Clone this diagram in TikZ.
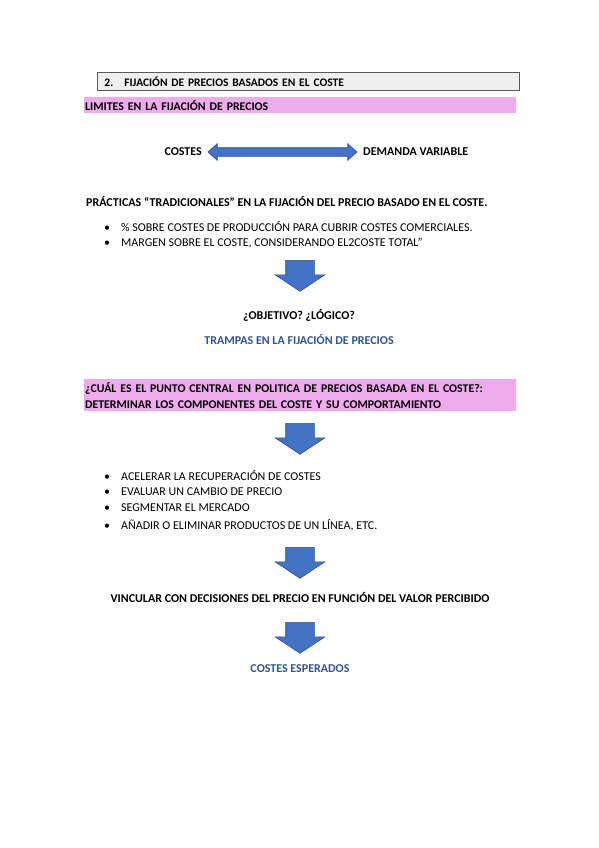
\documentclass[tikz,border=0pt]{standalone}
\usepackage{fontspec}
\setmainfont{Carlito}
\usetikzlibrary{shapes.arrows}
\definecolor{fl_blue}{RGB}{68,114,196}
\definecolor{fl_edge}{RGB}{47,82,143}
\definecolor{pink_band}{RGB}{239,172,236}
\definecolor{grey_box}{RGB}{239,239,239}
\definecolor{blue_text}{RGB}{47,84,150}
\tikzstyle{title}=[draw=black!65,fill=grey_box,line width=0.9pt,anchor=north west,
  minimum height=18pt,text width=408pt,inner xsep=7pt,inner ysep=0pt,align=left,
  font=\bfseries\fontsize{11.5}{13}\selectfont]
\tikzstyle{band}=[fill=pink_band,anchor=north west,text width=430pt,inner xsep=1pt,
  inner ysep=0pt,align=left,font=\bfseries\fontsize{11.8}{16}\selectfont]
\tikzstyle{txt}=[inner sep=0pt,font=\bfseries\fontsize{12}{14}\selectfont]
\tikzstyle{item}=[anchor=west,inner sep=0pt,font=\fontsize{12}{14}\selectfont]
\tikzstyle{down}=[single arrow,rotate=-90,anchor=tail,fill=fl_blue,draw=fl_edge,
  line width=0.6pt,inner xsep=0pt,inner ysep=14pt,minimum height=31pt,
  single arrow head extend=10.5pt,single arrow tip angle=113]
\tikzstyle{both}=[double arrow,fill=fl_blue,draw=fl_edge,line width=0.6pt,inner xsep=0pt,
  inner ysep=4pt,minimum height=149pt,double arrow head extend=4pt,double arrow tip angle=84]

\begin{document}
\begin{tikzpicture}[x=1pt,y=-1pt]
    \useasboundingbox (0,0) rectangle (599,848);
    \node [style=title] (head) at (97,72) {2.\hspace{11pt}FIJACIÓN DE PRECIOS BASADOS EN EL COSTE};
    \node [style=band,minimum height=16pt] (limits) at (84,97) {LIMITES EN LA FIJACIÓN DE PRECIOS};
    \node [style=txt,anchor=east] (costs) at (202,152) {COSTES};
    \node [style=txt,anchor=west] (demand) at (363,152) {DEMANDA VARIABLE};
    \path (costs.east) -- (demand.west) node [midway,style=both] (link) {};
    \node [style=txt,anchor=west] (practice) at (86,202) {PRÁCTICAS “TRADICIONALES” EN LA FIJACIÓN DEL PRECIO BASADO EN EL COSTE.};
    \node [style=item] (b1) at (104,227) {\textbullet\hspace{11pt}\% SOBRE COSTES DE PRODUCCIÓN PARA CUBRIR COSTES COMERCIALES.};
    \node [style=item] (b2) at (104,243) {\textbullet\hspace{11pt}MARGEN SOBRE EL COSTE, CONSIDERANDO EL2COSTE TOTAL”};
    \node [style=down] (arrow1) at (300,260) {};
    \node [style=txt] (question) at (299,315) {¿OBJETIVO? ¿LÓGICO?};
    \node [style=txt,text=blue_text] (traps) at (299,339) {TRAMPAS EN LA FIJACIÓN DE PRECIOS};
    \node [style=band,minimum height=32pt] (central) at (84,379) {¿CUÁL ES EL PUNTO CENTRAL EN POLITICA DE PRECIOS BASADA EN EL COSTE?:\\DETERMINAR LOS COMPONENTES DEL COSTE Y SU COMPORTAMIENTO};
    \node [style=down] (arrow2) at (300,423) {};
    \node [style=item] (c1) at (104,476) {\textbullet\hspace{11pt}ACELERAR LA RECUPERACIÓN DE COSTES};
    \node [style=item] (c2) at (104,492) {\textbullet\hspace{11pt}EVALUAR UN CAMBIO DE PRECIO};
    \node [style=item] (c3) at (104,508) {\textbullet\hspace{11pt}SEGMENTAR EL MERCADO};
    \node [style=item] (c4) at (104,525) {\textbullet\hspace{11pt}AÑADIR O ELIMINAR PRODUCTOS DE UN LÍNEA, ETC.};
    \node [style=down] (arrow3) at (300,547) {};
    \node [style=txt] (link_value) at (300,597) {VINCULAR CON DECISIONES DEL PRECIO EN FUNCIÓN DEL VALOR PERCIBIDO};
    \node [style=down] (arrow4) at (300,622) {};
    \node [style=txt,text=blue_text] (expected) at (300,669) {COSTES ESPERADOS};
  \end{tikzpicture}
\end{document}
